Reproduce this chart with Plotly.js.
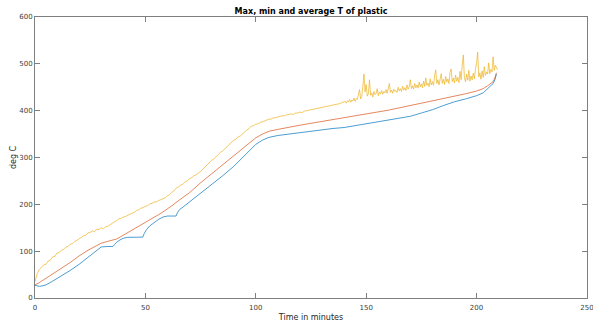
<!DOCTYPE html>
<html>
<head>
<meta charset="utf-8">
<script src="https://cdn.plot.ly/plotly-3.0.1.min.js"></script>
<style>html,body{margin:0;padding:0;background:#fff;}#chart{width:593px;height:325px;}</style>
</head>
<body>
<div id="chart"></div>
<script>
// Time (minutes) for min and average series
var timeMinAvg = [0, 1, 2, 3, 5, 8, 12, 16, 20, 24, 28, 30, 33, 35.3, 36, 37, 38.5, 40, 42, 45, 48.8, 49.5, 50.5, 52, 54, 56, 58, 60, 62, 63.9, 64.5, 65.5, 67, 70, 75, 80, 85, 90, 95, 100, 103, 106, 110, 115, 120, 125, 130, 135, 140, 145, 150, 155, 160, 165, 170, 175, 180, 185, 190, 195, 200, 203, 205, 206.5, 207.5, 208.3, 209];

var minT = [27, 25.5, 25, 25.5, 28, 36, 47, 59, 72, 87, 102, 109, 110, 110, 114, 119, 124, 127.5, 129.5, 130, 130, 138, 146, 154, 162, 168, 173, 175, 175, 175, 182, 189, 194, 205, 223, 242, 261, 281, 304, 328, 337, 343, 347, 350, 354, 357, 360, 362, 364, 368, 372, 377, 380, 384, 388, 395, 402, 411, 419, 425, 432, 438, 446, 452, 458, 466, 478];

var avgT = [28, 30, 33, 36, 42, 52, 64, 76, 90, 102, 112, 117, 121, 123, 124, 126, 130, 134, 140, 147, 158, 160, 163, 167, 172, 178, 184, 190, 197, 204, 206, 209, 214, 225, 246, 265, 284, 303, 322, 342, 350, 356, 360, 365, 369, 373, 377, 380, 384, 388, 393, 397, 401, 406, 411, 415, 421, 426, 431, 436, 442, 447, 453, 458, 462, 470, 481];

// Time (minutes) for max series
var timeMax = [0,1,2,3,4,5,6,7,8,9,10,11,12,13,14,15,16,17,18,19,20,21,22,23,24,25,26,27,28,29,30,31,32,33,34,35,36,37,38,39,40,41,42,43,44,45,46,47,48,49,50,51,52,53,54,55,56,57,58,59,60,61,62,63,64,65,66,67,68,69,70,71,72,73,74,75,76,77,78,79,80,81,82,83,84,85,86,87,88,89,90,91,92,93,94,95,96,97,98,99,100,101,102,103,104,105,106,107,108,109,110,111,112,113,114,115,116,117,118,119,120,121,122,123,124,125,126,127,128,129,130,131,132,133,134,135,136,137,138,139,140,
140.5,141,141.5,142,142.5,143,143.5,144,144.5,145,145.5,146,146.5,147,147.5,148,148.5,149,149.5,150,150.5,151,151.5,152,152.5,153,153.5,154,154.5,155,155.5,156,156.5,157,157.5,158,158.5,159,159.5,160,160.5,161,161.5,162,162.5,163,163.5,164,164.5,165,165.5,166,166.5,167,167.5,168,168.5,169,169.5,170,170.5,171,171.5,172,172.5,173,173.5,174,174.5,175,175.5,176,176.5,177,177.5,178,178.5,179,179.5,180,180.5,181,181.5,182,182.5,183,183.5,184,184.5,185,185.5,186,186.5,187,187.5,188,188.5,189,189.5,190,190.5,191,191.5,192,192.5,193,193.5,194,194.5,195,195.5,196,196.5,197,197.5,198,198.5,199,199.5,200,200.5,201,201.5,202,202.5,203,203.5,204,204.5,205,205.5,206,206.5,207,207.5,208,208.5,209,209.5];

var maxT = [35,52,61,65,71,72,79,81,88,89,96,97,102,104,109,110,115,116,121,123,127,129,133,134,139,140,143,142,147,146,150,148,152,153,157,159,163,165,169,170,173,174,177,179,181,183,187,188,192,193,196,197,201,202,205,205,208,210,212,214,218,221,226,229,235,237,241,243,248,250,255,257,261,263,267,270,275,280,285,289,294,297,302,305,311,314,319,322,327,332,337,339,344,346,351,354,359,362,367,368,371,372,375,376,378,380,382,382,385,385,387,388,389,389,391,392,393,392,395,395,397,396,399,400,401,402,403,403,405,406,407,407,409,410,411,412,413,414,415,417,418,
420,416,421,419,424,418,423,421,427,420,426,424,432,445,425,431,452,478,440,456,431,436,466,433,438,429,441,434,437,447,432,440,436,443,435,441,438,445,437,452,458,439,444,437,446,441,443,439,450,442,447,441,452,444,449,443,455,446,451,466,447,453,446,458,449,455,448,461,451,457,449,463,452,470,454,459,451,468,455,462,454,475,487,458,466,455,472,479,458,467,456,473,461,468,458,482,489,462,470,459,476,463,471,460,484,466,497,519,470,462,478,465,486,463,474,466,480,468,488,501,525,472,481,467,485,471,494,475,483,478,502,479,488,483,515,486,497,491,487];

var xTicks = [0, 50, 100, 150, 200, 250];
var yTicks = [0, 100, 200, 300, 400, 500, 600];

var traces = [
  {x: timeMinAvg, y: minT, type: 'scatter', mode: 'lines', line: {color: '#0072BD', width: 0.7}, name: 'min'},
  {x: timeMinAvg, y: avgT, type: 'scatter', mode: 'lines', line: {color: '#D95319', width: 0.7}, name: 'avg'},
  {x: timeMax, y: maxT, type: 'scatter', mode: 'lines', line: {color: '#EDB120', width: 0.7}, name: 'max'}
];

var axisCommon = {
  showgrid: false, zeroline: false, showline: true, linecolor: '#7f7f7f', linewidth: 1,
  mirror: 'ticks', ticks: 'inside', ticklen: 5, tickcolor: '#7f7f7f', tickwidth: 1,
  tickfont: {family: 'DejaVu Sans', size: 7, color: '#404040'}
};

var layout = {
  width: 593, height: 325,
  margin: {l: 35, r: 6, t: 17, b: 27},
  paper_bgcolor: '#fff', plot_bgcolor: '#fff',
  showlegend: false,
  font: {family: 'DejaVu Sans', color: '#262626'},
  title: {text: '<b>Max, min and average T of plastic</b>', font: {family: 'DejaVu Sans', size: 8, color: '#000'},
          x: 0.5, xref: 'paper', y: 1 - 11.5/325, yref: 'container', yanchor: 'middle'},
  xaxis: Object.assign({}, axisCommon, {range: [0, 250.02], tickvals: xTicks, ticktext: xTicks.map(String),
          ticklabelstandoff: 3, ticklabeloverflow: 'allow',
          title: {text: 'Time in minutes', font: {family: 'DejaVu Sans', size: 8, color: '#262626'}, standoff: 2}}),
  yaxis: Object.assign({}, axisCommon, {range: [0, 600], tickvals: yTicks, ticktext: yTicks.map(String),
          title: {text: 'deg C', font: {family: 'DejaVu Sans', size: 8, color: '#262626'}, standoff: 1}})
};

Plotly.newPlot('chart', traces, layout, {displayModeBar: false, staticPlot: true});
</script>
</body>
</html>
